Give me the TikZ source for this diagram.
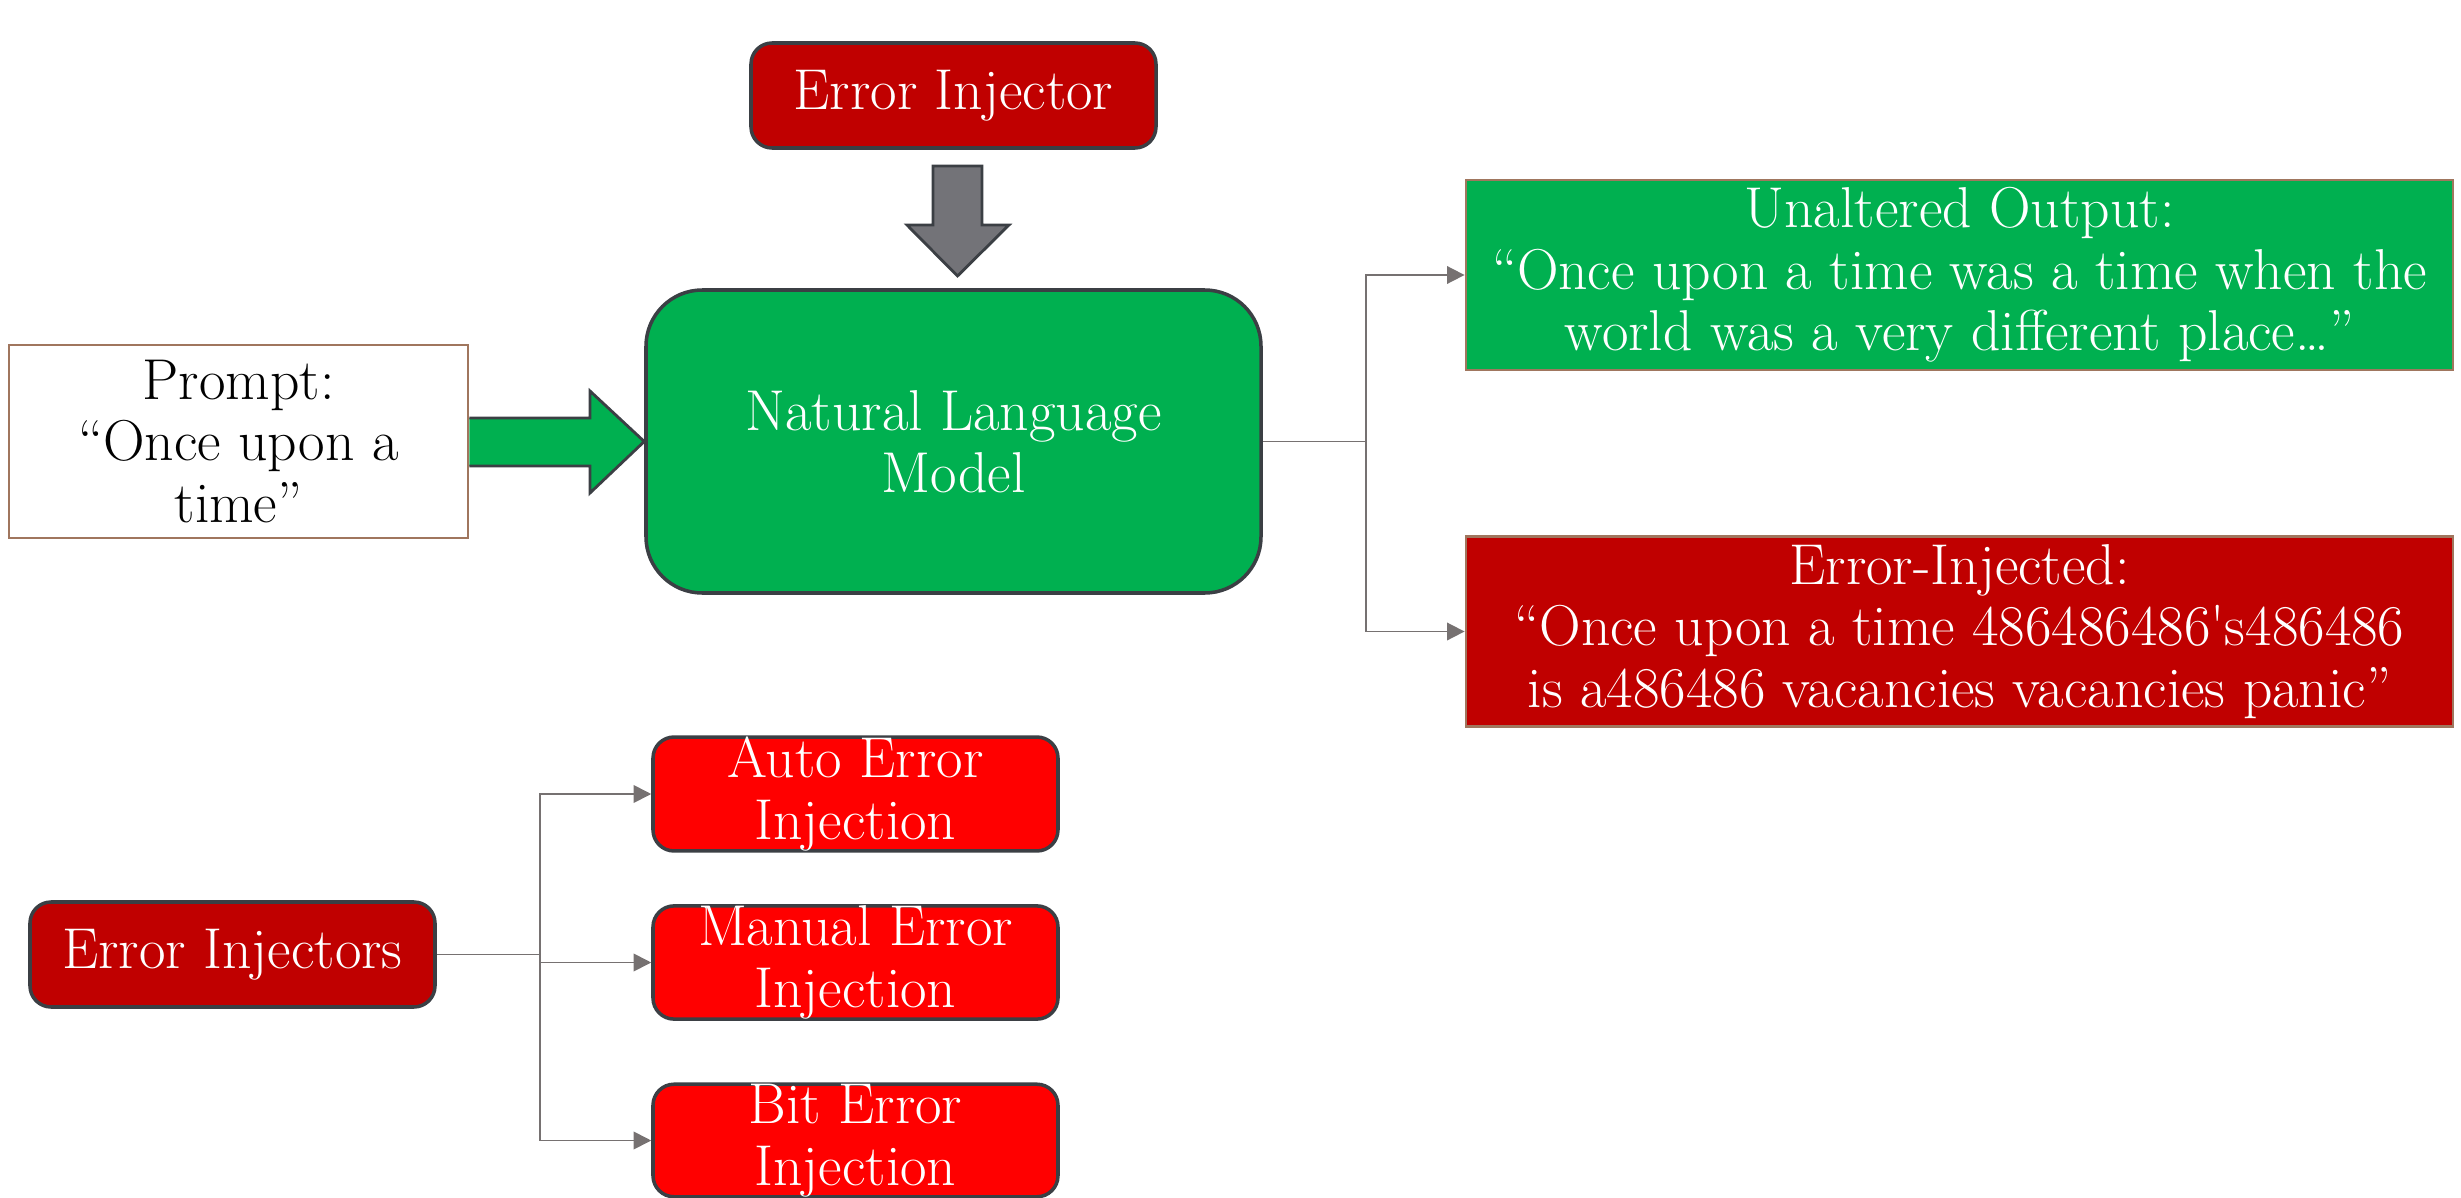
\documentclass[tikz,border=0pt]{standalone}
\usepackage{tikz}
\usetikzlibrary{arrows.meta}

\definecolor{darkred}{HTML}{C00000}
\definecolor{nlmgreen}{HTML}{00B050}
\definecolor{brightred}{HTML}{FF0000}
\definecolor{edgegray}{HTML}{3B3F44}
\definecolor{linkgray}{HTML}{767171}
\definecolor{arrowgray}{HTML}{737378}
\definecolor{tan}{HTML}{A0765E}

\begin{document}
\begin{tikzpicture}[
    txt/.style={font=\fontsize{16.4}{17.5}\selectfont, align=center, inner sep=0pt},
    redbox/.style={txt, draw=edgegray, line width=1pt, fill=darkred, text=white, rounded corners=6pt, minimum width=4.05cm, minimum height=1.05cm},
    injbox/.style={txt, draw=edgegray, line width=1pt, fill=brightred, text=white, rounded corners=6pt, minimum width=4.05cm, minimum height=1.06cm},
    outbox/.style={txt, draw=tan, line width=0.8pt, text=white, minimum width=9.87cm, minimum height=1.9cm},
    link/.style={draw=linkgray, line width=0.5pt, -{Triangle[length=5pt, width=5pt]}}
  ]
    \useasboundingbox (0, 0) rectangle (24.61, -11.98);

    % Top part: prompt through the model
    \node[redbox] (injector) at (9.535, -0.955) {Error Injector};
    \node[txt, draw=edgegray, line width=1pt, fill=nlmgreen, text=white, rounded corners=16pt,
          minimum width=6.15cm, minimum height=3.03cm] (nlm) at (9.535, -4.415) {Natural Language\\Model};
    \node[txt, draw=tan, line width=0.8pt, fill=white, minimum width=4.59cm, minimum height=1.93cm]
          (prompt) at (2.385, -4.415) {Prompt:\\``Once upon a\\time''};

    % Block arrows
    \draw[edgegray, line width=0.8pt, fill=arrowgray]
        (9.33, -1.66) -- (9.82, -1.66) -- (9.82, -2.25) -- (10.09, -2.25) -- (9.575, -2.76)
        -- (9.07, -2.25) -- (9.33, -2.25) -- cycle;
    \draw[edgegray, line width=0.8pt, fill=nlmgreen]
        (prompt.east |- 0, -4.18) -- (5.90, -4.18) -- (5.90, -3.91) -- (nlm.west) -- (5.90, -4.93)
        -- (5.90, -4.66) -- (prompt.east |- 0, -4.66);

    % Outputs
    \node[outbox, fill=nlmgreen] (plain) at (19.595, -2.75)
        {Unaltered Output:\\``Once upon a time was a time when the\\world was a very different place\ldots''};
    \node[outbox, fill=darkred] (faulty) at (19.595, -6.315)
        {Error-Injected:\\``Once upon a time 486486486\textquotesingle s486486\\is a486486 vacancies vacancies panic''};

    \draw[link] (nlm.east) -- ++(1.03, 0) |- (plain.west);
    \draw[link] (nlm.east) -- ++(1.03, 0) |- (faulty.west);

    % Bottom part: kinds of injectors
    \node[redbox] (injectors) at (2.325, -9.545) {Error Injectors};
    \node[injbox] (auto) at (8.555, -7.94) {Auto Error\\Injection};
    \node[injbox] (manual) at (8.555, -9.625) {Manual Error\\Injection};
    \node[injbox] (bit) at (8.555, -11.405) {Bit Error\\Injection};

    \draw[link] (injectors.east) -- ++(1.03, 0) |- (auto.west);
    \draw[link] (injectors.east) -- ++(1.03, 0) |- (manual.west);
    \draw[link] (injectors.east) -- ++(1.03, 0) |- (bit.west);
\end{tikzpicture}
\end{document}
